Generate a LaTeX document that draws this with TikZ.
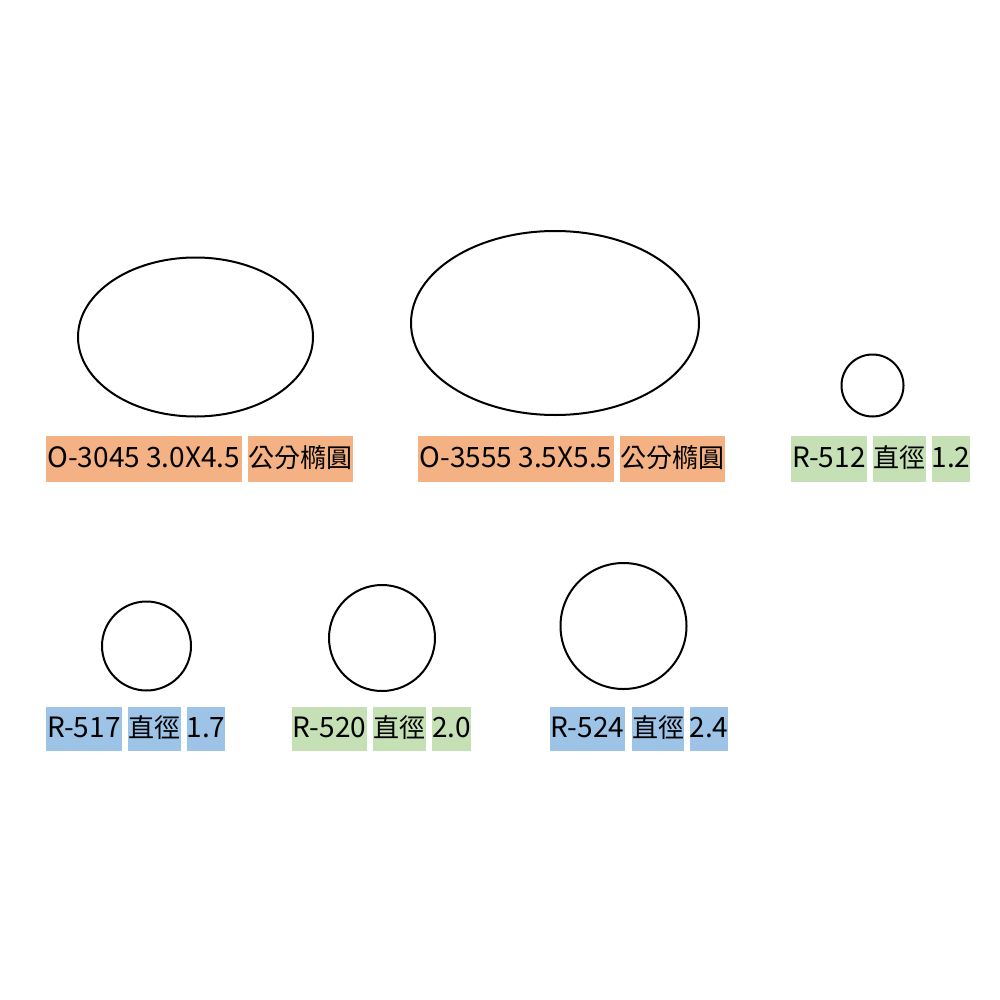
\documentclass[tikz,border=0pt]{standalone}
\usepackage{fontspec}
\setmainfont{Noto Sans CJK TC}
\usetikzlibrary{shapes.geometric}
\definecolor{orangefill}{HTML}{F4B183}
\definecolor{greenfill}{HTML}{C5E0B4}
\definecolor{bluefill}{HTML}{9DC3E6}
\tikzset{
  lab/.style={inner sep=0pt, text height=20pt, text depth=4pt, font=\fontsize{28}{32}\selectfont, text=black},
  cjklab/.style={lab, font=\fontsize{26}{30}\selectfont},
  shapeline/.style={draw=black, line width=2pt, inner sep=0pt},
  ovalshape/.style={shapeline, ellipse},
  roundshape/.style={shapeline, circle}
}
\begin{document}
\begin{tikzpicture}[x=1pt,y=-1pt]
\useasboundingbox (0,0) rectangle (1000,1000);
% shapes
\node[ovalshape, minimum width=235pt, minimum height=159pt] (e1) at (195.5,337) {};
\node[ovalshape, minimum width=288pt, minimum height=184pt] (e2) at (555,323) {};
\node[roundshape, minimum size=62pt] (c512) at (872.5,385.5) {};
\node[roundshape, minimum size=89pt] (c517) at (146.5,646) {};
\node[roundshape, minimum size=106pt] (c520) at (382,638) {};
\node[roundshape, minimum size=126pt] (c524) at (623.5,626) {};
% row 1 labels
\node[lab, fill=orangefill, minimum width=195.7pt, minimum height=46pt] (a1) at (143.85,459) {O-3045 3.0X4.5};
\node[cjklab, fill=orangefill, minimum width=105pt, minimum height=46pt] (a2) at (300.5,459) {公分橢圓};
\node[lab, fill=orangefill, minimum width=196pt, minimum height=46pt] (b1) at (516,459) {O-3555 3.5X5.5};
\node[cjklab, fill=orangefill, minimum width=105pt, minimum height=46pt] (b2) at (672.5,459) {公分橢圓};
\node[lab, fill=greenfill, minimum width=76pt, minimum height=46pt] (c1) at (829,459) {R-512};
\node[cjklab, fill=greenfill, minimum width=53pt, minimum height=46pt] (c2) at (899.5,459) {直徑};
\node[lab, fill=greenfill, minimum width=38pt, minimum height=46pt] (c3) at (951,459) {1.2};
% row 2 labels
\node[lab, fill=bluefill, minimum width=76pt, minimum height=44pt] (d1) at (84,729) {R-517};
\node[cjklab, fill=bluefill, minimum width=53pt, minimum height=44pt] (d2) at (154.5,729) {直徑};
\node[lab, fill=bluefill, minimum width=38pt, minimum height=44pt] (d3) at (206,729) {1.7};
\node[lab, fill=greenfill, minimum width=75pt, minimum height=44pt] (f1) at (329.5,729) {R-520};
\node[cjklab, fill=greenfill, minimum width=53pt, minimum height=44pt] (f2) at (399.5,729) {直徑};
\node[lab, fill=greenfill, minimum width=39pt, minimum height=44pt] (f3) at (451.5,729) {2.0};
\node[lab, fill=bluefill, minimum width=75pt, minimum height=44pt] (g1) at (587.5,729) {R-524};
\node[cjklab, fill=bluefill, minimum width=52pt, minimum height=44pt] (g2) at (658,729) {直徑};
\node[lab, fill=bluefill, minimum width=36pt, minimum height=44pt] (g3) at (709,729) {2.4};
\end{tikzpicture}
\end{document}
